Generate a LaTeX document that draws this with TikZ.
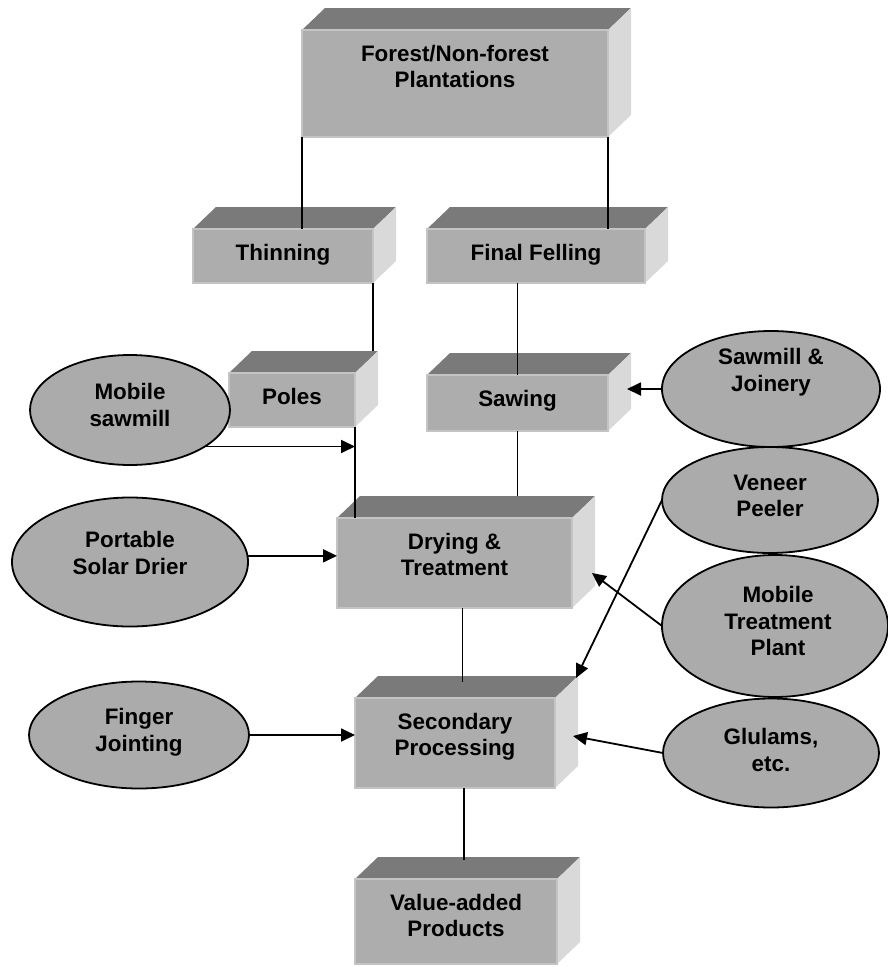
\documentclass[tikz,border=0pt]{standalone}
\usepackage{fontspec}
\setmainfont{Liberation Sans}
\usetikzlibrary{shapes.geometric,arrows.meta,calc}
\definecolor{frontc}{HTML}{ADADAD}
\definecolor{topc}{HTML}{7A7A7A}
\definecolor{sidec}{HTML}{D9D9D9}
\definecolor{edgec}{HTML}{C4C4C4}
\definecolor{ellc}{HTML}{ABABAB}
% name, left, top, right, bottom, text
\newcommand\cuboid[6]{%
  \fill[topface] (#2,#3) -- (#2+23,#3-22) -- (#4+23,#3-22) -- (#4,#3) -- cycle;
  \fill[sideface] (#4,#3) -- (#4+23,#3-22) -- (#4+23,#5-22) -- (#4,#5) -- cycle;
  \node[frontface, minimum width={#4pt-#2pt}, minimum height={#5pt-#3pt}] (#1) at ({(#2+#4)/2},{(#3+#5)/2}) {};
  \node[boxtext] (#1-t) at ({(#2+#4)/2},{#3+15}) {#6};
}
\begin{document}
\begin{tikzpicture}[x=1pt,y=-1pt,
  conn/.style={line width=1.8pt, black},
  arr/.style={conn, -{Triangle[length=14pt,width=13pt]}},
  frontface/.style={rectangle, fill=frontc, draw=edgec, line width=1.2pt, inner sep=0pt, outer sep=0pt},
  topface/.style={fill=topc},
  sideface/.style={fill=sidec},
  boxtext/.style={font=\fontsize{22.4}{26.5}\selectfont\bfseries, align=center, inner sep=0pt, anchor=north},
  oval/.style={ellipse, fill=ellc, draw=black, line width=1.8pt, inner sep=0pt, outer sep=0pt},
  ovaltext/.style={font=\fontsize{22.4}{26.5}\selectfont\bfseries, align=center, inner sep=0pt}]
\useasboundingbox (0,0) rectangle (887,967);

% boxes
\cuboid{top}{302}{30}{608}{137}{Forest/Non-forest\\Plantations}
\cuboid{thinning}{193}{229}{373}{283}{Thinning}
\cuboid{felling}{427}{229}{645}{283}{Final Felling}
\cuboid{poles}{229}{373}{355}{427}{Poles}
\cuboid{sawing}{427}{375}{608}{431}{Sawing}
\cuboid{drying}{337}{518}{572}{608}{Drying \&\\Treatment}
\cuboid{secondary}{355}{698}{555}{788}{Secondary\\Processing}
\cuboid{value}{355}{879}{557}{964}{Value-added\\Products}

% ellipses
\node[oval, minimum width=200pt, minimum height=110pt] (msaw) at (130,410) {};
\node[ovaltext] (msaw-t) at (130,405) {Mobile\\sawmill};
\node[oval, minimum width=236pt, minimum height=129pt] (portable) at (130,562) {};
\node[ovaltext] (portable-t) at (130,553) {Portable\\Solar Drier};
\node[oval, minimum width=220pt, minimum height=107pt] (finger) at (139,735) {};
\node[ovaltext] (finger-t) at (139,732) {Finger\\Jointing};
\node[oval, minimum width=218pt, minimum height=116pt] (sj) at (771,389) {};
\node[ovaltext] (sj-t) at (771,372) {Sawmill \&\\Joinery};
\node[oval, minimum width=216pt, minimum height=106pt] (veneer) at (770,500) {};
\node[ovaltext] (veneer-t) at (770,496) {Veneer\\Peeler};
\node[oval, minimum width=226pt, minimum height=142pt] (mtp) at (775,626) {};
\node[ovaltext] (mtp-t) at (778,621) {Mobile\\Treatment\\Plant};
\node[oval, minimum width=216pt, minimum height=109pt] (glu) at (771,753) {};
\node[ovaltext] (glu-t) at (771,750) {Glulams,\\etc.};

% connectors
\draw[conn] (top.south west) -- (top.south west |- thinning.north);
\draw[conn] (top.south east) -- (top.south east |- felling.north);
\draw[conn] (thinning.south east) -- ($(thinning.south east |- poles.north)+(0,-22)$);
\draw[conn] (poles.south east) -- (poles.south east |- drying.north);
\draw[conn] (sawing.north |- felling.south) -- (sawing.north);
\draw[conn] (sawing.south) -- ($(sawing.south |- drying.north)+(0,-22)$);
\draw[conn] ($(drying.south)+(8,0)$) coordinate (ds) -- ($(ds |- secondary.north)+(0,-16)$);
\draw[conn] ($(secondary.south)+(9,0)$) coordinate (ss) -- ($(ss |- value.north)+(0,-19)$);

% arrows
\draw[arr] (msaw.-26) -- (msaw.-26 -| poles.south east);
\draw[arr] (portable.3) -- (portable.3 -| drying.west);
\draw[arr] (finger.east) -- (finger.east -| secondary.west);
\draw[arr] (sj.west) -- ($(sj.west -| sawing.east)+(19,0)$);
\draw[arr] (veneer.west) -- ($(secondary.north east)+(21,-20)$);
\draw[arr] (mtp.west) -- ($(drying.east)+(20,10)$);
\draw[arr] (glu.west) -- ($(secondary.east)+(18,-7)$);
\end{tikzpicture}
\end{document}
